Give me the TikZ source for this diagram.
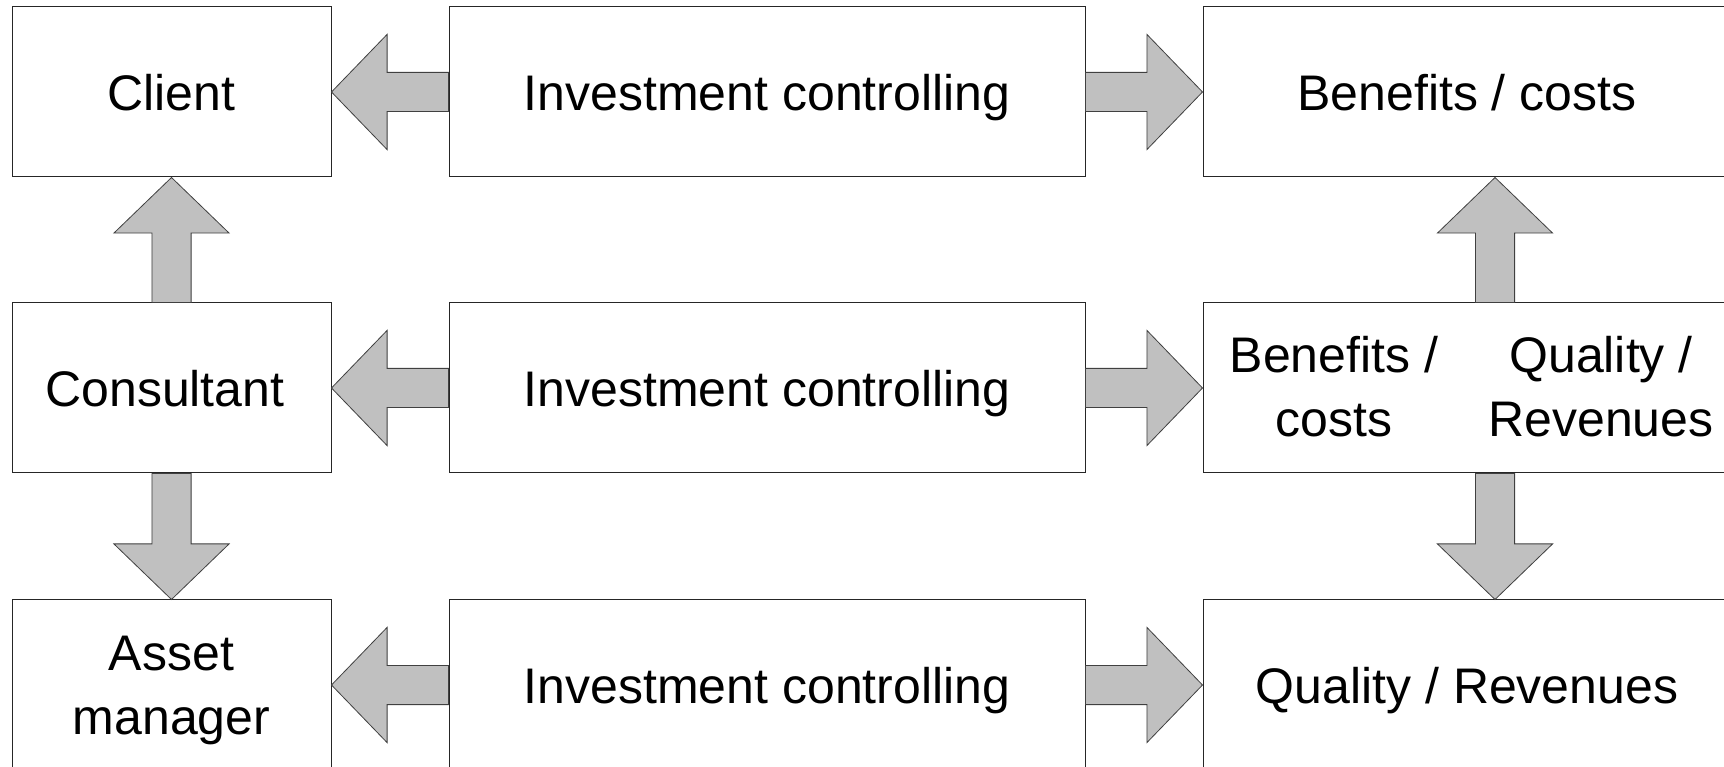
\documentclass[tikz,border=0pt]{standalone}
\usepackage{fontspec}
\setmainfont{Liberation Sans}
\usetikzlibrary{calc}
\definecolor{arrowfill}{HTML}{C0C0C0}
\tikzset{
  box/.style={draw=black!85,line width=0.5pt,minimum height=85pt,inner sep=0pt,text depth=0pt,align=center},
  label/.style={inner sep=0pt,align=center},
  % block arrow from start to target
  blockarrow/.style={fill=arrowfill,draw=black!75,line width=0.4pt,line join=miter,
    to path={($(\tikztostart)!9.8pt!90:(\tikztotarget)$)
      -- ($($(\tikztotarget)!27.8pt!(\tikztostart)$)!9.8pt!-90:(\tikztostart)$)
      -- ($($(\tikztotarget)!27.8pt!(\tikztostart)$)!28.8pt!-90:(\tikztostart)$)
      -- (\tikztotarget)
      -- ($($(\tikztotarget)!27.8pt!(\tikztostart)$)!28.8pt!90:(\tikztostart)$)
      -- ($($(\tikztotarget)!27.8pt!(\tikztostart)$)!9.8pt!90:(\tikztostart)$)
      -- ($(\tikztostart)!9.8pt!-90:(\tikztotarget)$) -- cycle}}
}
\begin{document}
\begin{tikzpicture}[x=1pt,y=1pt,font=\fontsize{25}{32}\selectfont]
	\path[use as bounding box,clip] (0,0) rectangle (862,383);
	% left column
	\node[box,minimum width=159.5pt] (client) at (85.75,337) {Client};
	\node[box,minimum width=159.5pt] (cons) at (85.75,189) {Consultant\hspace*{6.6pt}};
	\node[box,minimum width=159.5pt] (asset) at (85.75,40.5) {Asset\\manager};
	% middle column
	\foreach \y/\n in {337/1,189/2,40.5/3}
		\node[box,minimum width=318pt] (ctrl\n) at (383.5,\y) {Investment controlling};
	% right column
	\node[box,minimum width=264pt] (res1) at (733.5,337) {Benefits / costs};
	\node[box,minimum width=264pt] (res2) at (733.5,189) {};
	\node[label] (res2a) at ($(res2.center)+(-66.5,0.5)$) {Benefits /\\costs};
	\node[label] (res2b) at ($(res2.center)+(67,0.5)$) {Quality /\\Revenues};
	\node[box,minimum width=264pt] (res3) at (733.5,40.5) {Quality / Revenues};
	% arrows
	\foreach \n in {1,2,3}{
		\draw[blockarrow] (ctrl\n.west) to (\ifcase\n\or client\or cons\or asset\fi.east);
		\draw[blockarrow] (ctrl\n.east) to (res\n.west);
	}
	\draw[blockarrow] (cons.north) to (client.south);
	\draw[blockarrow] (cons.south) to (asset.north);
	\draw[blockarrow] ([xshift=14pt]res2.north) to ([xshift=14pt]res1.south);
	\draw[blockarrow] ([xshift=14pt]res2.south) to ([xshift=14pt]res3.north);
\end{tikzpicture}
\end{document}
